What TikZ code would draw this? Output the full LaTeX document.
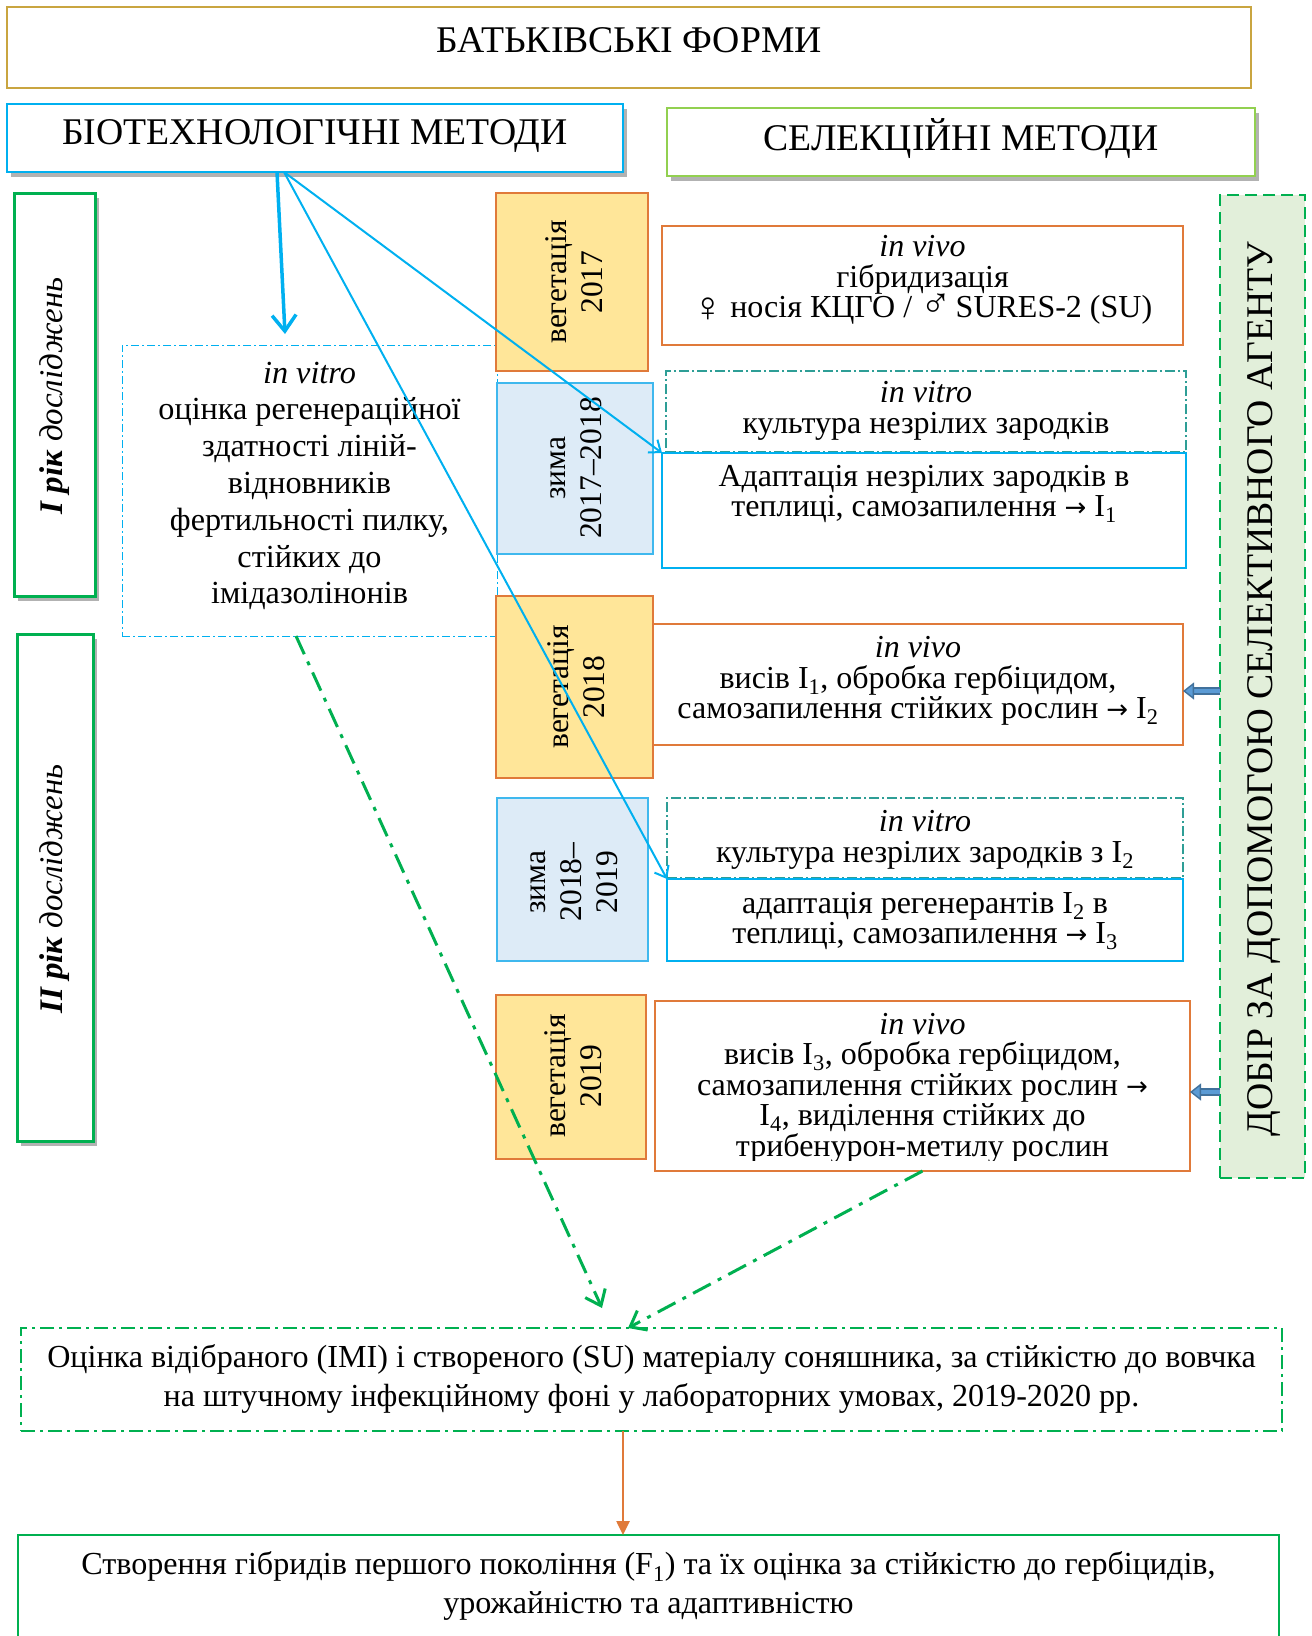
\documentclass[tikz,border=0pt]{standalone}
\usepackage{fontspec}
\setmainfont{Liberation Serif}
\newfontfamily\symfont{DejaVu Sans}
\usetikzlibrary{arrows.meta,shadows}

\definecolor{goldline}{HTML}{C9A540}
\definecolor{bioblue}{HTML}{00B0F0}
\definecolor{selgreen}{HTML}{92D050}
\definecolor{yeargreen}{HTML}{00B050}
\definecolor{vegfill}{HTML}{FFE699}
\definecolor{vegline}{HTML}{E07A3A}
\definecolor{winterfill}{HTML}{DDEBF7}
\definecolor{winterline}{HTML}{3FB8EE}
\definecolor{vitroteal}{HTML}{2E9E96}
\definecolor{dobirfill}{HTML}{E2EFDA}
\definecolor{arrowdark}{HTML}{41719C}
\definecolor{arrowlight}{HTML}{5B9BD5}

\newcommand{\toarr}{{\symfont\fontsize{26}{26}\selectfont →}}
\newcommand{\fem}{\raisebox{-4pt}{\fontsize{42}{30}\selectfont ♀}\hspace{-2pt}}
\newcommand{\masc}{{\fontsize{42}{30}\selectfont ♂}\hspace{-4pt}}

\tikzset{
  dims/.style 2 args={minimum width=#1pt,minimum height=#2pt},
  frame/.style={rectangle,inner sep=0pt,outer sep=0pt},
  shadowed/.style={drop shadow={shadow xshift=4pt,shadow yshift=-5pt,fill=black,opacity=0.3}},
  topbox/.style={frame,draw=goldline,line width=2pt},
  biobox/.style={frame,draw=bioblue,line width=2.5pt,fill=white,shadowed},
  selbox/.style={frame,draw=selgreen,line width=2.5pt,fill=white,shadowed},
  yearbox/.style={frame,draw=yeargreen,line width=3pt,fill=white,shadowed},
  vegbox/.style={frame,draw=vegline,line width=1.5pt,fill=vegfill},
  winterbox/.style={frame,draw=winterline,line width=1.5pt,fill=winterfill},
  vivobox/.style={frame,draw=vegline,line width=1.5pt},
  vitrobox/.style={frame,draw=vitroteal,line width=1.2pt,dash pattern=on 10pt off 3pt on 2pt off 3pt},
  labbox/.style={frame,draw=bioblue,line width=1pt,dash pattern=on 8pt off 3pt on 2pt off 3pt},
  adaptbox/.style={frame,draw=bioblue,line width=1.5pt},
  dobirbox/.style={frame,draw=yeargreen,line width=2.5pt,fill=dobirfill,dash pattern=on 12pt off 6pt},
  evalbox/.style={frame,draw=yeargreen,line width=2.5pt,dash pattern=on 14pt off 5pt on 3pt off 5pt},
  finalbox/.style={frame,draw=yeargreen,line width=2.5pt},
  headtext/.style={frame,font=\fontsize{37.7}{44}\selectfont},
  yeartext/.style={frame,rotate=90,font=\fontsize{33}{40}\selectfont},
  seasontext/.style={frame,rotate=90,align=center,font=\fontsize{31.5}{36}\selectfont},
  celltext/.style={frame,align=center,font=\fontsize{32}{30.5}\selectfont},
  labtext/.style={frame,align=center,font=\fontsize{32.2}{36.8}\selectfont},
  widetext/.style={frame,align=center,font=\fontsize{32.1}{39.5}\selectfont},
  bioarrow/.style={draw=bioblue,line width=2pt,-{Straight Barb[length=10pt,width=16pt]}},
  evalarrow/.style={draw=yeargreen,line width=3pt,dash pattern=on 20pt off 8pt on 4pt off 8pt,-{Straight Barb[length=14pt,width=22pt]}},
  resultarrow/.style={draw=vegline,line width=2.5pt,-{Triangle[length=14pt,width=13pt]}},
  selarrow/.style={draw=arrowdark,line width=1.4pt,double=arrowlight,double distance=4.5pt,-{Triangle[length=11pt,width=17pt,fill=arrowlight]}}
}

\begin{document}
\begin{tikzpicture}[x=1pt,y=-1pt]
\useasboundingbox (0,0) rectangle (1312,1636);

\node[topbox,dims={1244}{81}] (parents) at (629,47.5) {};
\node[headtext] (parents-t) at (629,40) {БАТЬКІВСЬКІ ФОРМИ};
\node[biobox,dims={616}{68}] (bio) at (315,138) {};
\node[headtext] (bio-t) at (315,136) {БІОТЕХНОЛОГІЧНІ МЕТОДИ};
\node[selbox,dims={588}{68}] (sel) at (961,142) {};
\node[headtext] (sel-t) at (961,139) {СЕЛЕКЦІЙНІ МЕТОДИ};

\node[yearbox,dims={81}{403}] (year1) at (54.5,394.5) {};
\node[yeartext] (year1-t) at (55,396) {\textbf{\textit{I рік}} \textit{досліджень}};
\node[yearbox,dims={76}{507}] (year2) at (55,887.5) {};
\node[yeartext] (year2-t) at (55,889) {\textbf{\textit{II рік}} \textit{досліджень}};

\node[labbox,dims={375}{291}] (vitroBig) at (309.5,490.5) {};
\node[labtext] (vitroBig-t) at (309.5,486) {\textit{in vitro}\\оцінка регенераційної\\здатності ліній-\\відновників\\фертильності пилку,\\стійких до\\імідазолінонів};

\node[vegbox,dims={152}{178}] (veg17) at (572,282) {};
\node[seasontext] (veg17-t) at (574,282) {вегетація\\2017};
\node[winterbox,dims={156}{171}] (win17) at (575,468.5) {};
\node[seasontext] (win17-t) at (576,468) {зима\\2017–2018};
\node[vegbox,dims={157}{182}] (veg18) at (574.5,687) {};
\node[seasontext] (veg18-t) at (576,687) {вегетація\\2018};
\node[winterbox,dims={151}{163}] (win18) at (572.5,879.5) {};
\node[seasontext] (win18-t) at (574,882) {зима\\2018–\\2019};
\node[vegbox,dims={150}{164}] (veg19) at (571,1077) {};
\node[seasontext] (veg19-t) at (573.5,1076) {вегетація\\2019};

\node[vivobox,dims={521}{119}] (vivoA) at (922.5,285.5) {};
\node[celltext] (vivoA-t) at (922.5,280) {\textit{in vivo}\\гібридизація\\\fem\ носія КЦГО / \masc\ SURES-2 (SU)};
\node[vitrobox,dims={520}{81}] (vitroA) at (926,411.5) {};
\node[celltext] (vitroA-t) at (926,411) {\textit{in vitro}\\культура незрілих зародків};
\node[adaptbox,dims={524}{115}] (adaptA) at (924,510.5) {};
\node[celltext] (adaptA-t) at (924,494) {Адаптація незрілих зародків в\\теплиці, самозапилення \toarr{} I\textsubscript{1}};
\node[vivobox,dims={530}{121}] (vivoB) at (918,684.5) {};
\node[celltext] (vivoB-t) at (918,681) {\textit{in vivo}\\висів I\textsubscript{1}, обробка гербіцидом,\\самозапилення стійких рослин \toarr{} I\textsubscript{2}};
\node[vitrobox,dims={516}{80}] (vitroB) at (925,838) {};
\node[celltext] (vitroB-t) at (925,840) {\textit{in vitro}\\культура незрілих зародків з I\textsubscript{2}};
\node[adaptbox,dims={516}{82}] (adaptB) at (925,920) {};
\node[celltext] (adaptB-t) at (925,921) {адаптація регенерантів I\textsubscript{2} в\\теплиці, самозапилення \toarr{} I\textsubscript{3}};
\node[vivobox,dims={535}{170}] (vivoC) at (922.5,1086) {};
\begin{scope}
  \clip (vivoC.north west) rectangle ([yshift=11pt]vivoC.south east);
  \node[celltext] (vivoC-t) at (922.5,1088) {\textit{in vivo}\\висів I\textsubscript{3}, обробка гербіцидом,\\самозапилення стійких рослин \toarr\\I\textsubscript{4}, виділення стійких до\\трибенурон-метилу рослин};
\end{scope}

\node[dobirbox,dims={85}{983}] (dobir) at (1262.5,686.5) {};
\node[headtext,rotate=90] (dobir-t) at (1264,689) {ДОБІР ЗА ДОПОМОГОЮ СЕЛЕКТИВНОГО АГЕНТУ};

\node[evalbox,dims={1261}{103}] (eval) at (651.5,1379.5) {};
\node[widetext] (eval-t) at (651.5,1379) {Оцінка відібраного (IMI) і створеного (SU) матеріалу соняшника, за стійкістю до вовчка\\на штучному інфекційному фоні у лабораторних умовах, 2019-2020 рр.};
\node[finalbox,dims={1261}{125}] (final) at (648.5,1597.5) {};
\node[widetext,font=\fontsize{32.1}{38.6}\selectfont] (final-t) at (648.5,1586) {Створення гібридів першого покоління (F\textsubscript{1}) та їх оцінка за стійкістю до гербіцидів,\\урожайністю та адаптивністю};

\draw[bioarrow,line width=3.5pt,-{Straight Barb[length=16pt,width=24pt]}] ([xshift=-38pt]bio.south) -- ([xshift=-24.5pt,yshift=11pt]vitroBig.north);
\draw[bioarrow] ([xshift=-31pt]bio.south) -- (adaptA.north west);
\draw[bioarrow] ([xshift=-31pt]bio.south) -- (adaptB.north west);
\draw[selarrow] (dobir.west |- 0,691) -- (vivoB.east |- 0,691);
\draw[selarrow] (dobir.west |- 0,1092) -- (vivoC.east |- 0,1092);
\draw[evalarrow] ([xshift=-13.5pt]vitroBig.south) -- ([xshift=-49.5pt,yshift=20pt]eval.north);
\draw[evalarrow] (vivoC.south) -- ([xshift=-23.5pt]eval.north);
\draw[resultarrow] ([xshift=-28.5pt]eval.south) -- ([xshift=-25.5pt]final.north);
\end{tikzpicture}
\end{document}
